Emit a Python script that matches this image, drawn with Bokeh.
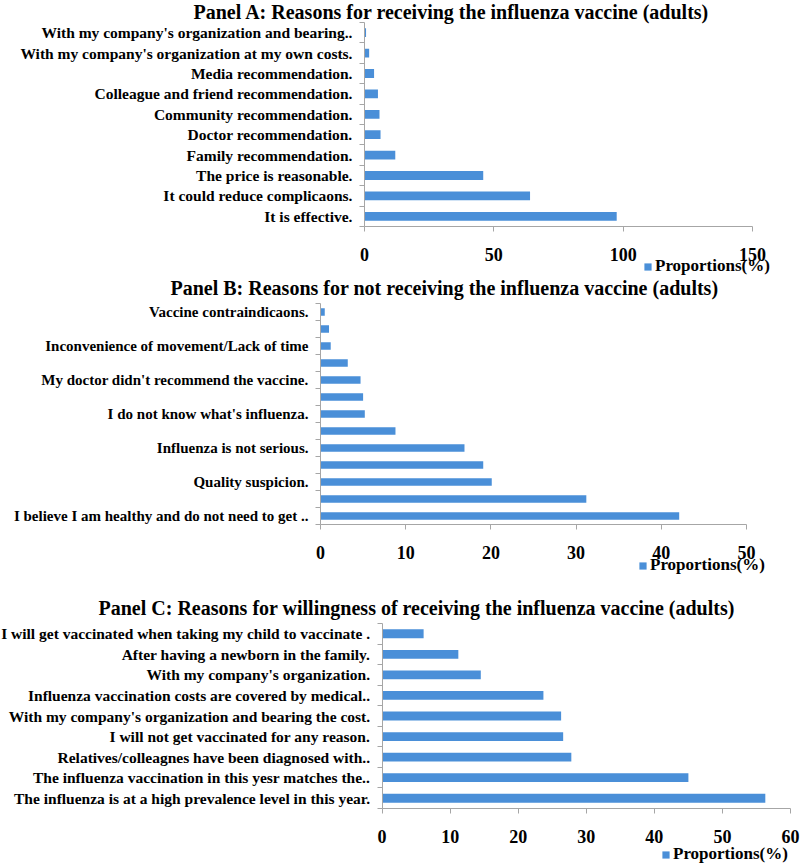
from bokeh.plotting import figure
from bokeh.models import (Range1d, FixedTicker, Legend, LegendItem,
                          ColumnDataSource, Label)
from bokeh.embed import file_html
from bokeh.resources import INLINE

FONT = "Liberation Serif"
BLUE = "#4A8FD8"
AXIS = "#A6A6A6"
LEGEND_LABEL = "Proportions(%)"
WIDTH = 800

# ---- Panel A (listed top to bottom as drawn) ----
a_title = "Panel A: Reasons for receiving the influenza vaccine (adults)"
a_labels = [
    "With my company's organization and bearing..",
    "With my company's organization at my own costs.",
    "Media recommendation.",
    "Colleague and friend recommendation.",
    "Community recommendation.",
    "Doctor recommendation.",
    "Family recommendation.",
    "The price is reasonable.",
    "It could reduce complicaons.",
    "It is effective.",
]
a_values = [0.6, 1.8, 3.7, 5.2, 5.8, 6.2, 11.9, 45.9, 64.0, 97.5]
a_ticks = [0, 50, 100, 150]

# ---- Panel B ----
b_title = "Panel B: Reasons for not receiving the influenza vaccine (adults)"
b_labels = [
    "Vaccine contraindicaons.",
    "",
    "Inconvenience of movement/Lack of time",
    "",
    "My doctor didn't recommend the vaccine.",
    "",
    "I do not know what's influenza.",
    "",
    "Influenza is not serious.",
    "",
    "Quality suspicion.",
    "",
    "I believe I am healthy and do not need to get ..",
]
b_values = [0.5, 1.0, 1.2, 3.2, 4.7, 5.0, 5.2, 8.8, 16.9, 19.1, 20.1, 31.2, 42.1]
b_ticks = [0, 10, 20, 30, 40, 50]

# ---- Panel C ----
c_title = "Panel C: Reasons for willingness of receiving the influenza vaccine (adults)"
c_labels = [
    "I will get vaccinated when taking my child to vaccinate .",
    "After having a newborn in the family.",
    "With my company's organization.",
    "Influenza vaccination costs are covered by medical..",
    "With my company's organization and bearing the cost.",
    "I will not get vaccinated for any reason.",
    "Relatives/colleagnes have been diagnosed with..",
    "The influenza vaccination in this yesr matches the..",
    "The influenza is at a high prevalence level in this year.",
]
c_values = [6.1, 11.2, 14.5, 23.7, 26.3, 26.6, 27.8, 45.0, 56.3]
c_ticks = [0, 10, 20, 30, 40, 50, 60]


def panel(title, labels, values, xticks, H, rows_top, rows_bot, x0_px, x1_px,
          title_x, title_y, legend_x, legend_cy, label_size, tick_standoff):
    """All *_px / position arguments are pixel layout within the panel."""
    labs = labels[::-1]
    vals = values[::-1]
    n = len(labs)
    ys = list(range(n))
    xmax = xticks[-1]
    upp = xmax / (x1_px - x0_px)
    x_lo = -x0_px * upp
    x_hi = xmax + (WIDTH - x1_px) * upp
    row_px = (rows_bot - rows_top) / n
    y_hi = n - 0.5 + rows_top / row_px
    y_lo = -0.5 - (H - rows_bot) / row_px

    p = figure(width=WIDTH, height=H,
               x_range=Range1d(x_lo, x_hi), y_range=Range1d(y_lo, y_hi),
               output_backend="svg", toolbar_location=None, min_border=0)
    src = ColumnDataSource(dict(y=ys, v=vals))
    r = p.hbar(y="y", left=0, right="v", height=0.43, source=src,
               fill_color=BLUE, line_color=None)
    p.outline_line_color = None
    p.xgrid.visible = False
    p.ygrid.visible = False
    p.background_fill_color = "white"
    p.border_fill_color = "white"
    p.title.standoff = 0

    ya = p.yaxis[0]
    ya.fixed_location = 0
    ya.bounds = (-0.5, n - 0.5)
    ya.ticker = FixedTicker(ticks=ys, minor_ticks=[i - 0.5 for i in range(n + 1)])
    ya.major_label_overrides = {i: labs[i] for i in range(n)}
    ya.major_tick_out = 0
    ya.major_tick_in = 0
    ya.minor_tick_out = 5
    ya.minor_tick_in = 0
    ya.axis_line_color = AXIS
    ya.minor_tick_line_color = AXIS
    ya.major_label_text_font = FONT
    ya.major_label_text_font_style = "bold"
    ya.major_label_text_font_size = label_size
    ya.major_label_text_color = "black"
    ya.major_label_standoff = 7

    xa = p.xaxis[0]
    xa.fixed_location = -0.5
    xa.bounds = (0, xmax)
    xa.ticker = FixedTicker(ticks=xticks)
    xa.major_tick_out = 5
    xa.major_tick_in = 0
    xa.minor_tick_out = 0
    xa.axis_line_color = AXIS
    xa.major_tick_line_color = AXIS
    xa.major_label_text_font = FONT
    xa.major_label_text_font_style = "bold"
    xa.major_label_text_font_size = "18px"
    xa.major_label_text_color = "black"
    xa.major_label_standoff = tick_standoff

    p.add_layout(Label(x=title_x, y=H - title_y, x_units="screen", y_units="screen",
                       text=title, text_font=FONT, text_font_style="bold",
                       text_font_size="20px", text_color="black",
                       text_align="left", text_baseline="middle"))

    leg = Legend(items=[LegendItem(label=LEGEND_LABEL, renderers=[r])],
                 location=(legend_x, H - legend_cy - 9), orientation="horizontal",
                 glyph_width=9, glyph_height=9, label_standoff=3,
                 label_height=18, label_text_line_height=1.0,
                 label_text_font=FONT, label_text_font_style="bold",
                 label_text_font_size="17px", label_text_color="black",
                 padding=0, margin=0, border_line_color=None,
                 background_fill_alpha=0)
    p.add_layout(leg)
    return p


pA = panel(a_title, a_labels, a_values, a_ticks, 276, 22, 226, 364, 752,
           193, 11, 643, 267, "15.5px", 16)
pB = panel(b_title, b_labels, b_values, b_ticks, 300, 27, 248, 320, 746,
           170, 11, 638, 290, "15px", 16)
pC = panel(c_title, c_labels, c_values, c_ticks, 288, 47, 232, 381.6, 790,
           98, 31, 661, 279, "15.5px", 16)

open("out.html", "w").write(file_html([pA, pB, pC], INLINE))
